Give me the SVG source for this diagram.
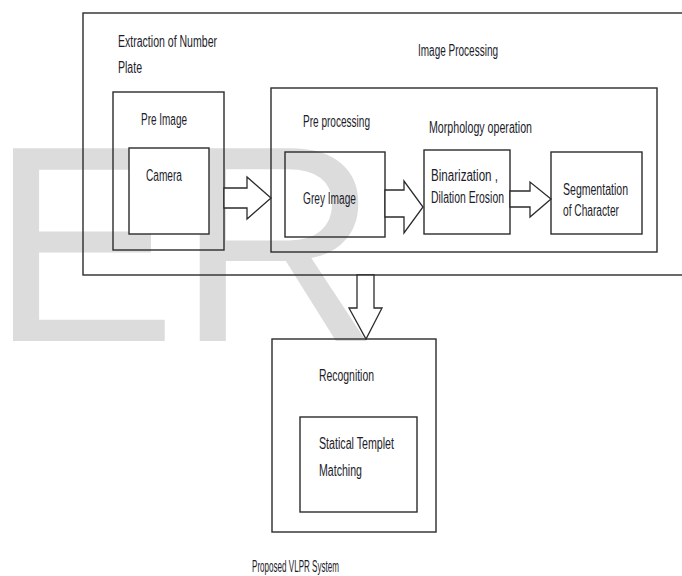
<svg xmlns="http://www.w3.org/2000/svg" width="682" height="576" viewBox="0 0 682 576">
<style>
.box{fill:none;stroke:#2b2b2b;stroke-width:1.4}
.wbox{fill:#fff;stroke:#2b2b2b;stroke-width:1.4}
.arr{fill:#fff;stroke:#2b2b2b;stroke-width:1.3;stroke-linejoin:miter}
.t{font-family:"Liberation Sans",Arial,sans-serif;font-size:16px;fill:#1c1c2a}
.wm{font-family:"Liberation Sans",Arial,sans-serif;font-size:280px;fill:#dcdcdc}
</style>
<rect width="682" height="576" fill="#fff"/>
<g id="watermark"><text class="wm" x="-10" y="341">ER</text></g>
<g id="extraction">
<rect class="box" x="83" y="13" width="620" height="262"/>
<text class="t" x="118" y="47" textLength="99" lengthAdjust="spacingAndGlyphs">Extraction of Number</text>
<text class="t" x="118" y="73" textLength="24" lengthAdjust="spacingAndGlyphs">Plate</text>
</g>
<g id="image-processing-label">
<text class="t" x="418" y="56" textLength="80" lengthAdjust="spacingAndGlyphs">Image Processing</text>
</g>
<g id="pre-image">
<rect class="box" x="113" y="92" width="111" height="158"/>
<text class="t" x="141" y="125" textLength="46" lengthAdjust="spacingAndGlyphs">Pre Image</text>
</g>
<g id="camera">
<rect class="wbox" x="129" y="148" width="80" height="86"/>
<text class="t" x="146" y="181" textLength="36" lengthAdjust="spacingAndGlyphs">Camera</text>
</g>
<g id="pre-processing">
<rect class="box" x="271" y="88" width="386" height="164"/>
<text class="t" x="303" y="127" textLength="67" lengthAdjust="spacingAndGlyphs">Pre processing</text>
<text class="t" x="429" y="133" textLength="103" lengthAdjust="spacingAndGlyphs">Morphology operation</text>
</g>
<g id="grey-image">
<rect class="box" x="285" y="152" width="100" height="85"/>
<text class="t" x="303" y="204" textLength="53" lengthAdjust="spacingAndGlyphs">Grey Image</text>
</g>
<g id="binarization">
<rect class="box" x="424" y="150" width="86" height="84"/>
<text class="t" x="431" y="181" textLength="67" lengthAdjust="spacingAndGlyphs">Binarization ,</text>
<text class="t" x="431" y="203" textLength="73" lengthAdjust="spacingAndGlyphs">Dilation Erosion</text>
</g>
<g id="segmentation">
<rect class="box" x="551" y="152" width="91" height="82"/>
<text class="t" x="563" y="195" textLength="65" lengthAdjust="spacingAndGlyphs">Segmentation</text>
<text class="t" x="563" y="216" textLength="56" lengthAdjust="spacingAndGlyphs">of Character</text>
</g>
<g id="recognition">
<rect class="box" x="272" y="339" width="164" height="193"/>
<text class="t" x="319" y="381" textLength="55" lengthAdjust="spacingAndGlyphs">Recognition</text>
</g>
<g id="statical">
<rect class="box" x="300" y="417" width="117" height="95"/>
<text class="t" x="319" y="449" textLength="75" lengthAdjust="spacingAndGlyphs">Statical Templet</text>
<text class="t" x="319" y="476" textLength="43" lengthAdjust="spacingAndGlyphs">Matching</text>
</g>
<g id="connectors">
<polygon class="arr" points="224,188 247,188 247,177 271,198 247,219 247,208 224,208"/>
<polygon class="arr" points="385,190 404,190 404,181 423,207 404,233 404,217 385,217"/>
<polygon class="arr" points="510,191 530,191 530,182 551,199 530,217 530,207 510,207"/>
<polygon class="arr" points="357,275 357,308 349,308 366,339 382,308 374,308 374,275"/>
</g>
<g id="caption">
<text class="t" x="252" y="572" textLength="87" lengthAdjust="spacingAndGlyphs">Proposed VLPR System</text>
</g>
</svg>
